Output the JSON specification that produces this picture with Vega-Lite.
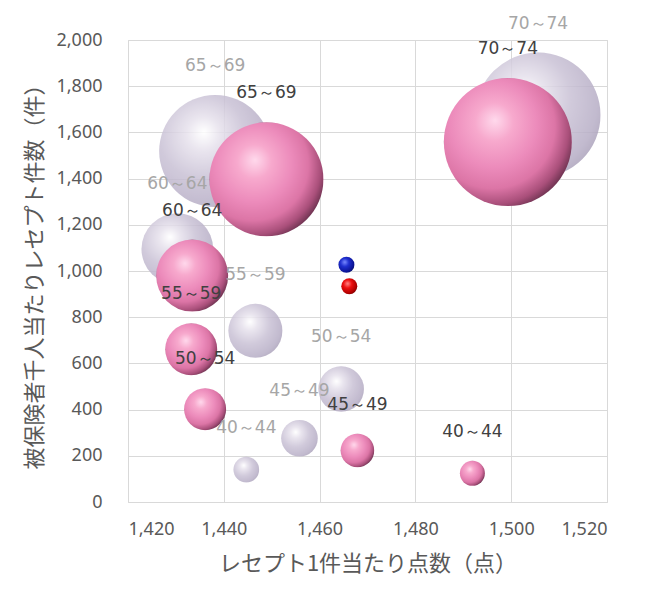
{
  "$schema": "https://vega.github.io/schema/vega-lite/v6.json",
  "width": 479,
  "height": 462,
  "autosize": {"type": "none"},
  "padding": {"left": 128, "top": 40, "right": 42, "bottom": 90},
  "background": "white",
  "data": {
    "values": [
      {"series": "A", "age": "70～74", "x": 1505.6, "y": 1675, "size": 3906},
      {"series": "A", "age": "65～69", "x": 1438.2, "y": 1519, "size": 3136},
      {"series": "A", "age": "60～64", "x": 1430.3, "y": 1095, "size": 1282},
      {"series": "A", "age": "55～59", "x": 1446.6, "y": 741, "size": 729},
      {"series": "A", "age": "50～54", "x": 1464.5, "y": 489, "size": 520},
      {"series": "A", "age": "45～49", "x": 1455.8, "y": 276, "size": 335},
      {"series": "A", "age": "40～44", "x": 1444.7, "y": 140, "size": 164},
      {"series": "B", "age": "70～74", "x": 1499.3, "y": 1558, "size": 4096},
      {"series": "B", "age": "65～69", "x": 1448.9, "y": 1397, "size": 3249},
      {"series": "B", "age": "60～64", "x": 1433.4, "y": 980, "size": 1296},
      {"series": "B", "age": "55～59", "x": 1433.2, "y": 661, "size": 676},
      {"series": "B", "age": "50～54", "x": 1436.1, "y": 402, "size": 441},
      {"series": "B", "age": "45～49", "x": 1467.9, "y": 223, "size": 282},
      {"series": "B", "age": "40～44", "x": 1491.9, "y": 124, "size": 156},
      {"series": "全体A", "age": "全体", "x": 1465.6, "y": 1027, "size": 64},
      {"series": "全体B", "age": "全体", "x": 1466.2, "y": 934, "size": 64}
    ]
  },
  "encoding": {
    "x": {
      "field": "x", "type": "quantitative",
      "scale": {"domain": [1420, 1520], "nice": false, "zero": false},
      "axis": {"values": [1420, 1440, 1460, 1480, 1500, 1520], "format": ",d", "labelOverlap": false, "title": "レセプト1件当たり点数（点）", "labelPadding": 18, "titlePadding": 15}
    },
    "y": {
      "field": "y", "type": "quantitative",
      "scale": {"domain": [0, 2000], "nice": false},
      "axis": {"values": [0, 200, 400, 600, 800, 1000, 1200, 1400, 1600, 1800, 2000], "format": ",d", "labelOverlap": false, "title": "被保険者千人当たりレセプト件数（件）", "labelPadding": 26, "titlePadding": 9}
    }
  },
  "layer": [
    {
      "transform": [{"filter": "datum.series === 'A'"}],
      "mark": {
        "type": "circle", "opacity": 1, "fillOpacity": 0.85, "strokeWidth": 0,
        "fill": {"gradient": "radial", "x1": 0.4, "y1": 0.33, "r1": 0, "x2": 0.37, "y2": 0.4, "r2": 0.75,
          "stops": [
            {"offset": 0, "color": "#ffffff"},
            {"offset": 0.2, "color": "#e6e1ec"},
            {"offset": 0.5, "color": "#c9c1d5"},
            {"offset": 0.8, "color": "#b7aec6"},
            {"offset": 1, "color": "#9e95ae"}
          ]}
      },
      "encoding": {
        "size": {"field": "size", "type": "quantitative", "scale": {"type": "linear", "domain": [0, 4096], "range": [0, 16384], "zero": true}, "legend": null}
      }
    },
    {
      "transform": [{"filter": "datum.series === 'B'"}],
      "mark": {
        "type": "circle", "opacity": 1, "strokeWidth": 0,
        "fill": {"gradient": "radial", "x1": 0.4, "y1": 0.33, "r1": 0, "x2": 0.37, "y2": 0.4, "r2": 0.75,
          "stops": [
            {"offset": 0, "color": "#ffd9ec"},
            {"offset": 0.2, "color": "#f7a9cd"},
            {"offset": 0.45, "color": "#ec8bbb"},
            {"offset": 0.65, "color": "#dc75a6"},
            {"offset": 0.8, "color": "#a94f7a"},
            {"offset": 0.92, "color": "#5c2a44"},
            {"offset": 1, "color": "#3e1c2e"}
          ]}
      },
      "encoding": {
        "size": {"field": "size", "type": "quantitative", "scale": {"type": "linear", "domain": [0, 4096], "range": [0, 16384], "zero": true}, "legend": null}
      }
    },
    {
      "transform": [{"filter": "datum.series === '全体A'"}],
      "mark": {
        "type": "circle", "opacity": 1, "strokeWidth": 0,
        "fill": {"gradient": "radial", "x1": 0.4, "y1": 0.33, "r1": 0, "x2": 0.37, "y2": 0.4, "r2": 0.75,
          "stops": [
            {"offset": 0, "color": "#7b8cff"},
            {"offset": 0.35, "color": "#1f2fd0"},
            {"offset": 0.75, "color": "#0c1598"},
            {"offset": 1, "color": "#050a50"}
          ]}
      },
      "encoding": {
        "size": {"field": "size", "type": "quantitative", "scale": {"type": "linear", "domain": [0, 4096], "range": [0, 16384], "zero": true}, "legend": null}
      }
    },
    {
      "transform": [{"filter": "datum.series === '全体B'"}],
      "mark": {
        "type": "circle", "opacity": 1, "strokeWidth": 0,
        "fill": {"gradient": "radial", "x1": 0.4, "y1": 0.33, "r1": 0, "x2": 0.37, "y2": 0.4, "r2": 0.75,
          "stops": [
            {"offset": 0, "color": "#ff8a8a"},
            {"offset": 0.35, "color": "#ee1010"},
            {"offset": 0.75, "color": "#b00000"},
            {"offset": 1, "color": "#5a0000"}
          ]}
      },
      "encoding": {
        "size": {"field": "size", "type": "quantitative", "scale": {"type": "linear", "domain": [0, 4096], "range": [0, 16384], "zero": true}, "legend": null}
      }
    },
    {
      "transform": [{"filter": "datum.series === 'A' || datum.series === 'B'"}],
      "mark": {"type": "text", "font": "DejaVu Sans", "fontSize": 17, "baseline": "middle", "align": "center", "dy": {"expr": "-29 - sqrt(datum.size)"}},
      "encoding": {
        "text": {"field": "age", "type": "nominal"},
        "color": {"field": "series", "type": "nominal", "scale": {"domain": ["A", "B"], "range": ["#a6a6a6", "#404040"]}, "legend": null}
      }
    }
  ],
  "config": {
    "view": {"stroke": "#d9d9d9", "strokeWidth": 1},
    "axis": {
      "grid": true, "gridColor": "#d9d9d9", "gridWidth": 1,
      "domain": false, "ticks": false,
      "labelColor": "#595959", "labelFont": "Noto Sans", "labelFontSize": 18,
      "titleColor": "#595959", "titleFont": "Noto Sans CJK JP", "titleFontSize": 22, "titleFontWeight": "normal"
    }
  }
}
